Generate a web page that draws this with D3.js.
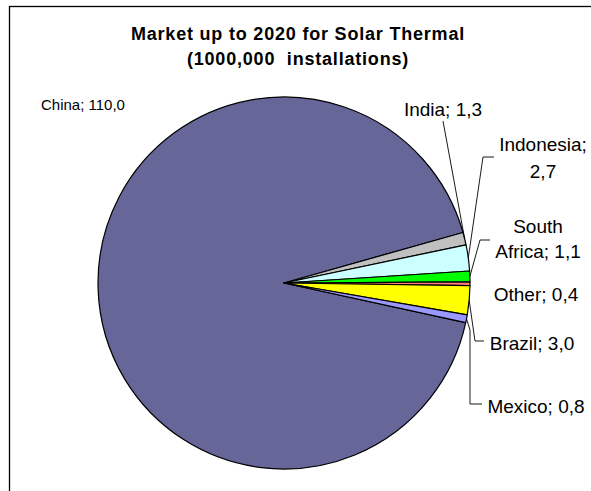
<!DOCTYPE html>
<html>
<head>
<meta charset="utf-8">
<script src="https://cdn.jsdelivr.net/npm/d3@7"></script>
<style>
  html, body { margin: 0; padding: 0; background: #fff; }
  svg { display: block; font-family: "Liberation Sans", Arial, sans-serif; }
</style>
</head>
<body>
<svg id="chart" width="591" height="491"></svg>
<script>
// Market data (millions of installations)
const categories = ["China", "India", "Indonesia", "South Africa", "Other", "Brazil", "Mexico"];
const values = [110.0, 1.3, 2.7, 1.1, 0.4, 3.0, 0.8];
const sliceColors = ["#666699", "#C0C0C0", "#CCFFFF", "#00FF00", "#FF8080", "#FFFF00", "#9999FF"];
const titleLines = ["Market up to 2020 for Solar Thermal", "(1000,000  installations)"];

const width = 591, height = 491;
const cx = 284, cy = 283, radius = 186;
const firstSliceDeg = 102.3;

const svg = d3.select("#chart");

// chart frame (runs off the right and bottom edges)
svg.append("rect")
  .attr("x", 9.5).attr("y", 6.5)
  .attr("width", 700).attr("height", 700)
  .attr("fill", "#fff").attr("stroke", "#000").attr("stroke-width", 1.3);

// title
svg.append("text")
  .attr("text-anchor", "middle")
  .attr("font-weight", "bold")
  .attr("font-size", 18)
  .attr("letter-spacing", 0.8)
  .style("white-space", "pre")
  .attr("xml:space", "preserve")
  .selectAll("tspan").data(titleLines).join("tspan")
  .attr("x", 298)
  .attr("y", (d, i) => 40 + i * 25)
  .text(d => d);

const pie = d3.pie().sort(null).value(d => d.value)
  .startAngle(firstSliceDeg * Math.PI / 180)
  .endAngle(firstSliceDeg * Math.PI / 180 + 2 * Math.PI);

const data = categories.map((c, i) => ({ name: c, value: values[i], color: sliceColors[i] }));
const arcs = pie(data);
const arc = d3.arc().innerRadius(0).outerRadius(radius);

const g = svg.append("g").attr("transform", `translate(${cx},${cy})`);
g.selectAll("path").data(arcs).join("path")
  .attr("d", arc)
  .attr("fill", d => d.data.color)
  .attr("stroke", "#000")
  .attr("stroke-width", 1.2)
  .attr("stroke-linejoin", "round");

const fmt = v => d3.format(".1f")(v).replace(".", ",");

// label placement: text lines, centre x, first baseline, line gap, font size, leader route
const labelLayout = {
  "China":        { lines: d => [`China; ${d}`], x: 83, y: 110, size: 15, leader: null },
  "India":        { lines: d => [`India; ${d}`], x: 443, y: 116, size: 19, leader: [[443, 121]] },
  "Indonesia":    { lines: d => ["Indonesia;", d], x: 543, y: 151, gap: 27, size: 19, leader: [[483, 157], [494, 157]] },
  "South Africa": { lines: d => ["South", `Africa; ${d}`], x: 538, y: 233, gap: 25, size: 19, leader: [[480, 240], [490, 240]] },
  "Other":        { lines: d => [`Other; ${d}`], x: 536, y: 301, size: 19, leader: null },
  "Brazil":       { lines: d => [`Brazil; ${d}`], x: 532, y: 350, size: 19, leader: [[475, 341], [484, 341]] },
  "Mexico":       { lines: d => [`Mexico; ${d}`], x: 536, y: 413, size: 19, leader: [[470, 330], [470, 404], [482, 404]] }
};

const rimPoint = a => {
  const m = (a.startAngle + a.endAngle) / 2;
  return [cx + radius * Math.sin(m), cy - radius * Math.cos(m)];
};

arcs.forEach(a => {
  const L = labelLayout[a.data.name];
  if (L.leader) {
    const pts = [rimPoint(a)].concat(L.leader);
    svg.append("path")
      .attr("d", d3.line()(pts))
      .attr("fill", "none")
      .attr("stroke", "#000")
      .attr("stroke-width", 0.9);
  }
  const t = svg.append("text")
    .attr("text-anchor", "middle")
    .attr("font-size", L.size)
    .attr("fill", "#000");
  t.selectAll("tspan").data(L.lines(fmt(a.data.value))).join("tspan")
    .attr("x", L.x)
    .attr("y", (d, i) => L.y + i * (L.gap || 0))
    .text(d => d);
});
</script>
</body>
</html>
